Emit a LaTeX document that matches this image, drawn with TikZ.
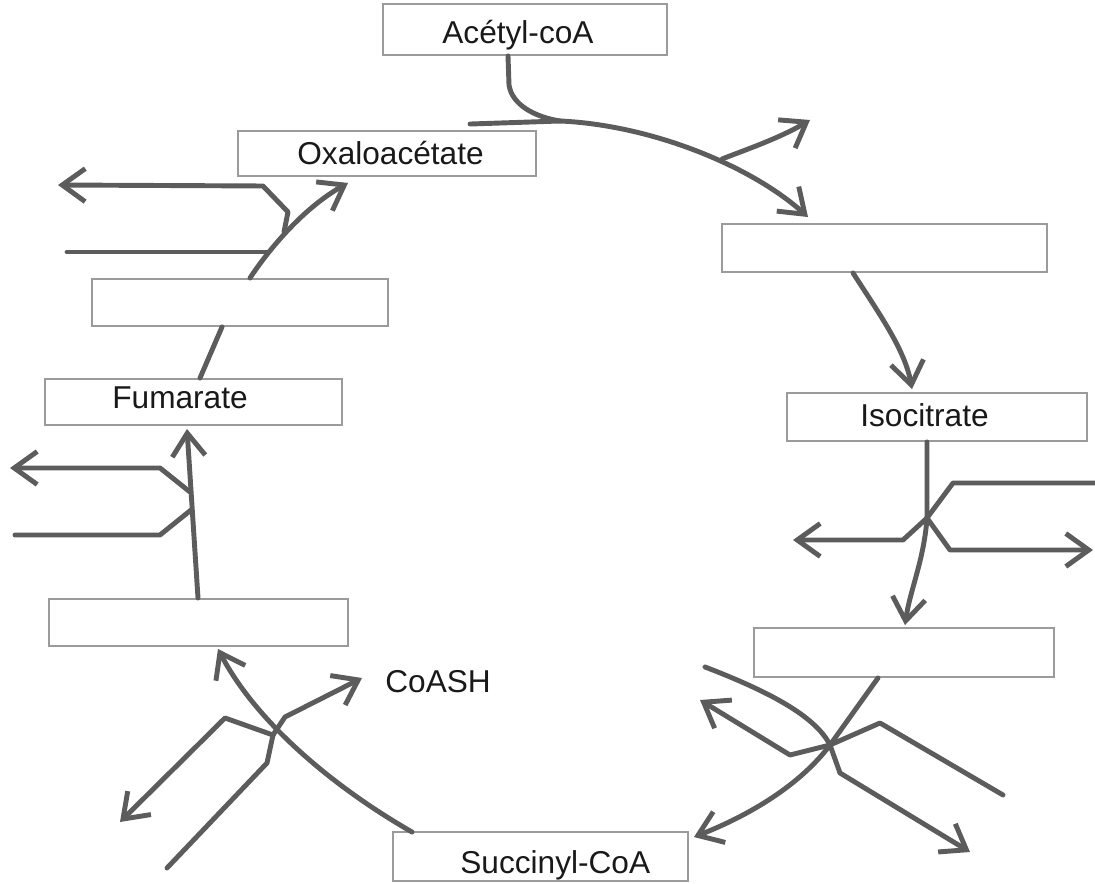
\documentclass[tikz,border=0pt]{standalone}
\usepackage{fontspec}
\setmainfont{Liberation Sans}
\usetikzlibrary{arrows.meta,calc}
\definecolor{ink}{RGB}{92,92,92}
\definecolor{boxc}{RGB}{155,155,155}
\definecolor{txt}{RGB}{25,25,25}
\begin{document}
\begin{tikzpicture}[x=0.02cm,y=-0.02cm,
  box/.style={draw=boxc, line width=1.1pt, inner sep=0pt, fill=none},
  flow/.style={draw=ink, line width=2.8pt, line cap=round, line join=round},
  arr/.style={flow, -{Straight Barb[length=4.6mm,width=6.6mm]}},
  lbl/.style={font=\fontsize{18}{22}\selectfont, text=txt, anchor=base west, inner sep=0pt}]
\useasboundingbox (0,0) rectangle (1095,884);

% boxes
\node[box, minimum width=5.68cm, minimum height=1.02cm] (acetyl) at (525,29.5) {};
\node[box, minimum width=5.96cm, minimum height=0.90cm] (oxalo) at (387,153.5) {};
\node[box, minimum width=6.50cm, minimum height=0.96cm] (citrate) at (884.5,248) {};
\node[box, minimum width=5.92cm, minimum height=0.94cm] (malate) at (240,302.5) {};
\node[box, minimum width=5.94cm, minimum height=0.92cm] (fumarate) at (193.5,402) {};
\node[box, minimum width=6.00cm, minimum height=0.96cm] (iso) at (937,417) {};
\node[box, minimum width=6.00cm, minimum height=0.98cm] (akg) at (904,652.5) {};
\node[box, minimum width=5.98cm, minimum height=0.94cm] (succinate) at (198.5,622.5) {};
\node[box, minimum width=5.90cm, minimum height=0.98cm] (succinyl) at (540.5,856.5) {};

% labels
\node[lbl] (tacetyl) at (442,44) {Acétyl-coA};
\node[lbl] (toxalo) at (297,165) {Oxaloacétate};
\node[lbl] (tfum) at (112,409) {Fumarate};
\node[lbl] (tiso) at (860,427) {Isocitrate};
\node[lbl] (tsucc) at (460,873) {Succinyl-CoA};
\node[lbl] (tcoash) at (385,692) {CoASH};

% junction / free-end coordinates
\coordinate (m1) at (560,121);
\coordinate (co1) at (810,120);
\coordinate (j1) at (927,518);
\coordinate (nadin) at (1095,483);
\coordinate (co2out) at (793,540);
\coordinate (nadhout) at (1093,550);
\coordinate (j2) at (830,745);
\coordinate (in2a) at (705,667);
\coordinate (out2a) at (700,700);
\coordinate (in2b) at (1003,795);
\coordinate (out2b) at (970,852);
\coordinate (j3) at (273,735);
\coordinate (coash) at (362,678);
\coordinate (out3) at (120,822);
\coordinate (in3) at (167,868);
\coordinate (out4) at (10,468);
\coordinate (in4) at (15,535);
\coordinate (out5) at (58,185);
\coordinate (in5) at (67,252);

% acetyl-coA + oxaloacetate -> citrate
\draw[flow] ($(acetyl.south)+(-17,0)$) -- (509,85) .. controls (512,105) and (535,117) .. (m1);
\draw[flow] ($(oxalo.north)+(83,-6)$) -- (m1);
\draw[arr] (m1) .. controls (650,125) and (750,165) .. ($(citrate.north)+(-76.5,-6)$);
\draw[arr] (722,159) .. controls (745,150) and (780,138) .. (co1);

% citrate -> isocitrate
\draw[arr] ($(citrate.south)+(-31.5,0)$) .. controls (880,315) and (905,350) .. ($(iso.north)+(-25,-3)$);

% isocitrate -> alpha-KG
\draw[arr] ($(iso.south)+(-10,0)$) -- (j1) .. controls (924,560) and (910,590) .. ($(akg.north)+(1,-2)$);
\draw[flow] (nadin) -- (953,483) -- (j1);
\draw[arr] (j1) -- (903,540) -- (co2out);
\draw[arr] (j1) -- (950,550) -- (nadhout);

% alpha-KG -> succinyl-CoA
\draw[arr] ($(akg.south)+(-26,0)$) -- (j2) .. controls (800,785) and (750,815) .. ($(succinyl.north east)+(5,6)$);
\draw[flow] (in2a) .. controls (765,690) and (815,715) .. (j2);
\draw[arr] (j2) -- (790,755) -- (out2a);
\draw[flow] (in2b) -- (880,723) -- (j2);
\draw[arr] (j2) -- (840,773) -- (out2b);

% succinyl-CoA -> succinate
\draw[arr] ($(succinyl.north west)+(20,1)$) .. controls (330,785) and (255,720) .. ($(succinate.south)+(19.5,2)$);
\draw[arr] (j3) -- (285,717) -- (coash);
\draw[arr] (j3) -- (225,718) -- (out3);
\draw[flow] (in3) -- (267,763) -- (j3);

% succinate -> fumarate
\draw[arr] ($(succinate.north)+(-0.5,0)$) -- ($(fumarate.south)+(-6.5,3)$);
\draw[arr] (190,492) -- (160,468) -- (out4);
\draw[flow] (in4) -- (160,535) -- (191,510);

% fumarate -> malate
\draw[flow] ($(fumarate.north)+(6.5,0)$) -- ($(malate.south)+(-18,0)$);

% malate -> oxaloacetate
\draw[arr] ($(malate.north)+(10,0)$) .. controls (265,255) and (300,210) .. ($(oxalo.south)+(-39,6)$);
\draw[arr] (284,232) -- (288,212) -- (263,186) -- (out5);
\draw[flow] (in5) -- (266,252);
\end{tikzpicture}
\end{document}
